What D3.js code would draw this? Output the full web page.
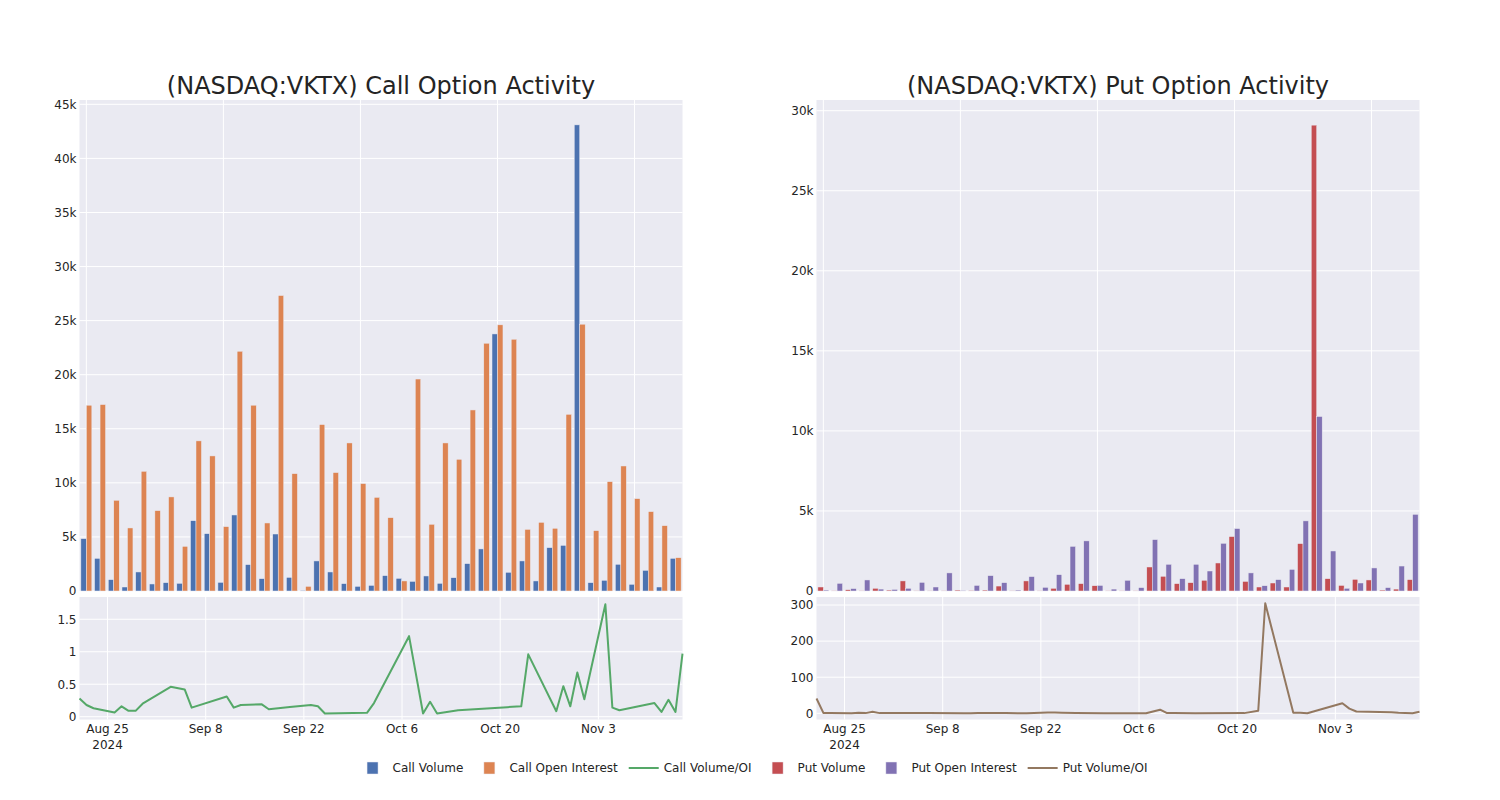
<!DOCTYPE html>
<html>
<head>
<meta charset="utf-8">
<script src="https://cdn.jsdelivr.net/npm/d3@7"></script>
<style>
  html, body { margin: 0; padding: 0; background: #ffffff; }
  svg { display: block; font-family: "DejaVu Sans", sans-serif; }
</style>
</head>
<body>
<svg id="chart" width="1500" height="800"></svg>
<script>
// ---------------- data ----------------
const dates = [
  "2024-08-21","2024-08-22","2024-08-23","2024-08-26","2024-08-27","2024-08-28","2024-08-29","2024-08-30",
  "2024-09-03","2024-09-05","2024-09-06","2024-09-11","2024-09-12","2024-09-13","2024-09-16","2024-09-17",
  "2024-09-20","2024-09-23","2024-09-24","2024-09-25","2024-09-27","2024-10-01","2024-10-02","2024-10-07",
  "2024-10-09","2024-10-10","2024-10-11","2024-10-14","2024-10-21","2024-10-23","2024-10-24","2024-10-28",
  "2024-10-29","2024-10-30","2024-10-31","2024-11-01","2024-11-04","2024-11-05","2024-11-06","2024-11-11",
  "2024-11-12","2024-11-13","2024-11-14","2024-11-15"
];

const callVolume = [4840,3020,1050,370,1760,650,770,710,6500,5300,800,7030,2440,1140,5270,1260,
  65,2780,1760,680,430,520,1420,1170,890,1390,710,1230,2530,3890,23770,1730,
  2780,930,4010,4220,43100,770,990,2470,620,1910,370,3020];
const callOpenInterest = [17180,17240,8390,5830,11070,7430,8700,4130,13880,12490,5950,22170,17180,6290,27320,10850,
  430,15390,10950,13690,9930,8660,6780,930,19600,6170,13690,12180,16740,22910,24610,23280,
  5700,6350,5800,16340,24670,5580,10110,11560,8540,7340,6040,3080];
const callVolumeOI = [0.28,0.18,0.13,0.065,0.16,0.09,0.09,0.2,0.46,0.42,0.14,0.31,0.14,0.18,0.19,0.115,
  0.148,0.18,0.16,0.05,0.053,0.06,0.21,1.24,0.05,0.23,0.05,0.1,0.147,0.16,0.96,0.085,
  0.47,0.16,0.68,0.27,1.73,0.14,0.1,0.21,0.074,0.26,0.074,0.97];

const putVolume = [250,10,80,10,170,60,630,20,20,20,60,40,60,310,20,630,
  10,170,420,460,330,10,10,10,1500,920,460,520,670,1750,3400,600,
  250,500,250,2960,29100,770,350,730,690,60,120,710];
const putOpenInterest = [60,480,150,690,120,100,170,540,250,1130,40,350,960,520,60,900,
  230,1020,2790,3130,350,120,670,210,3210,1670,770,1670,1250,2980,3900,1130,
  330,710,1350,4380,10900,2500,170,500,1440,210,1560,4790];
const putVolumeOI = [41,0.5,0.5,0.3,1.4,0.5,4,0.5,0.5,0.5,1,0.3,0.2,0.6,0.5,0.7,
  0.2,2,2,1.5,0.9,0.2,0.1,0.2,10,0.5,0.6,0.3,0.5,7,305,1.5,
  1.5,0.2,5.6,11.2,28,13,5,3,1.5,0.8,0.1,4];

const callBarTicks = [0,5000,10000,15000,20000,25000,30000,35000,40000,45000];
const putBarTicks = [0,5000,10000,15000,20000,25000,30000];
const callRatioTicks = [0,0.5,1,1.5];
const putRatioTicks = [0,100,200,300];
const timeTicks = ["2024-08-25","2024-09-08","2024-09-22","2024-10-06","2024-10-20","2024-11-03"];
const timeTickLabels = [["Aug 25","2024"],["Sep 8"],["Sep 22"],["Oct 6"],["Oct 20"],["Nov 3"]];

const legendLabels = ["Call Volume","Call Open Interest","Call Volume/OI","Put Volume","Put Open Interest","Put Volume/OI"];
const legendKinds = ["bar","bar","line","bar","bar","line"];
const palette = {
  callVol: "#4C72B0", callOI: "#DD8452", callRatio: "#55A868",
  putVol: "#C44E52", putOI: "#8172B3", putRatio: "#937860"
};
const legendColors = [palette.callVol, palette.callOI, palette.callRatio, palette.putVol, palette.putOI, palette.putRatio];

// ---------------- layout ----------------
const svg = d3.select("#chart");
const parse = d3.timeParse("%Y-%m-%d");
const textColor = "rgb(36,36,36)";
const bg = "rgb(234,234,242)";
const W = 603;
const topY = 100, topH = 491;
const botY = 597, botH = 122.5;

function panel(cfg) {
  const g = svg.append("g").attr("transform", `translate(${cfg.x0},0)`);

  // title
  g.append("text")
    .attr("x", W / 2).attr("y", 94)
    .attr("text-anchor", "middle")
    .attr("font-size", 24)
    .attr("fill", textColor)
    .text(cfg.title);

  // ---- top: bars ----
  const top = g.append("g").attr("transform", `translate(0,${topY})`);
  top.append("rect").attr("width", W).attr("height", topH).attr("fill", bg);

  const xBand = d3.scaleBand().domain(dates).range([0, W]).paddingInner(0.2).paddingOuter(0.1);
  const xSub = d3.scaleBand().domain([0, 1]).range([0, xBand.bandwidth()]);
  const yBar = d3.scaleLinear().domain([0, cfg.barMax]).range([topH, 0]);

  // grid
  top.append("g").selectAll("line.h").data(cfg.barTicks).join("line")
    .attr("x1", 0).attr("x2", W)
    .attr("y1", d => yBar(d)).attr("y2", d => yBar(d))
    .attr("stroke", "#fff").attr("stroke-width", 1);
  top.append("g").selectAll("line.v").data(dates.filter((d, i) => i % 10 === 0)).join("line")
    .attr("x1", d => xBand(d) + xBand.bandwidth() / 2).attr("x2", d => xBand(d) + xBand.bandwidth() / 2)
    .attr("y1", 0).attr("y2", topH)
    .attr("stroke", "#fff").attr("stroke-width", 1);

  // y axis labels
  const yAx = top.append("g").call(d3.axisLeft(yBar).tickValues(cfg.barTicks).tickFormat(d3.format("~s")).tickSize(0).tickPadding(3));
  yAx.select(".domain").remove();
  yAx.selectAll("text").attr("font-size", 12).attr("fill", textColor).attr("font-family", "DejaVu Sans");

  // bars
  const series = [cfg.vol, cfg.oi];
  const colors = [cfg.volColor, cfg.oiColor];
  series.forEach((arr, s) => {
    top.append("g").selectAll("rect").data(arr).join("rect")
      .attr("x", (d, i) => xBand(dates[i]) + xSub(s))
      .attr("width", xSub.bandwidth())
      .attr("y", d => yBar(d))
      .attr("height", d => topH - yBar(d))
      .attr("fill", colors[s])
      .attr("stroke", "rgb(234,234,242)")
      .attr("stroke-width", 0.5);
  });

  // ---- bottom: ratio line ----
  const bot = g.append("g").attr("transform", `translate(0,${botY})`);
  bot.append("rect").attr("width", W).attr("height", botH).attr("fill", bg);
  const dts = dates.map(parse);
  const xTime = d3.scaleTime().domain([dts[0], dts[dts.length - 1]]).range([0, W]);
  const yR = d3.scaleLinear().domain(cfg.ratioDomain).range([botH, 0]);

  bot.append("g").selectAll("line").data(cfg.ratioTicks).join("line")
    .attr("x1", 0).attr("x2", W)
    .attr("y1", d => yR(d)).attr("y2", d => yR(d))
    .attr("stroke", "#fff").attr("stroke-width", 1);
  const tDates = timeTicks.map(parse);
  bot.append("g").selectAll("line").data(tDates).join("line")
    .attr("x1", d => xTime(d)).attr("x2", d => xTime(d))
    .attr("y1", 0).attr("y2", botH)
    .attr("stroke", "#fff").attr("stroke-width", 1);

  const yAx2 = bot.append("g").call(d3.axisLeft(yR).tickValues(cfg.ratioTicks).tickFormat(d3.format("~g")).tickSize(0).tickPadding(3));
  yAx2.select(".domain").remove();
  yAx2.selectAll("text").attr("font-size", 12).attr("fill", textColor).attr("font-family", "DejaVu Sans");

  // x tick labels
  const xl = bot.append("g").selectAll("text").data(tDates).join("text")
    .attr("x", d => xTime(d))
    .attr("y", 136)
    .attr("text-anchor", "middle")
    .attr("font-size", 12)
    .attr("fill", textColor);
  xl.each(function (d, i) {
    const t = d3.select(this);
    timeTickLabels[i].forEach((s, j) => {
      t.append("tspan").attr("x", xTime(d)).attr("dy", j === 0 ? 0 : 16).text(s);
    });
  });

  const line = d3.line().x((d, i) => xTime(dts[i])).y(d => yR(d));
  bot.append("path").datum(cfg.ratio)
    .attr("d", line)
    .attr("fill", "none")
    .attr("stroke", cfg.ratioColor)
    .attr("stroke-width", 2)
    .attr("stroke-linejoin", "round");
}

panel({
  x0: 79.5, title: "(NASDAQ:VKTX) Call Option Activity",
  vol: callVolume, oi: callOpenInterest, ratio: callVolumeOI,
  volColor: palette.callVol, oiColor: palette.callOI, ratioColor: palette.callRatio,
  barMax: 45400, barTicks: callBarTicks,
  ratioDomain: [-0.043, 1.843], ratioTicks: callRatioTicks
});
panel({
  x0: 816.5, title: "(NASDAQ:VKTX) Put Option Activity",
  vol: putVolume, oi: putOpenInterest, ratio: putVolumeOI,
  volColor: palette.putVol, oiColor: palette.putOI, ratioColor: palette.putRatio,
  barMax: 30670, barTicks: putBarTicks,
  ratioDomain: [-17.2, 322.2], ratioTicks: putRatioTicks
});

// ---------------- legend ----------------
const leg = svg.append("g");
const items = leg.selectAll("g").data(legendLabels).join("g");
items.append("text").attr("x", 40).attr("y", 772).attr("font-size", 12).attr("fill", textColor).text(d => d);
items.each(function (d, i) {
  const it = d3.select(this);
  if (legendKinds[i] === "bar") {
    it.append("rect").attr("x", 14.5).attr("y", 762).attr("width", 11).attr("height", 12)
      .attr("fill", legendColors[i]).attr("stroke", "rgb(234,234,242)").attr("stroke-width", 0.5);
  } else {
    it.append("line").attr("x1", 5).attr("x2", 35).attr("y1", 768).attr("y2", 768)
      .attr("stroke", legendColors[i]).attr("stroke-width", 2);
  }
});
let cx = 0;
const widths = [];
items.each(function () { widths.push(d3.select(this).select("text").node().getComputedTextLength()); });
const offsets = widths.map(w => { const o = cx; cx += 40 + w + 6; return o; });
const total = cx - 6;
const startX = 750 - total / 2;
items.attr("transform", (d, i) => `translate(${startX + offsets[i]},0)`);
</script>
</body>
</html>
